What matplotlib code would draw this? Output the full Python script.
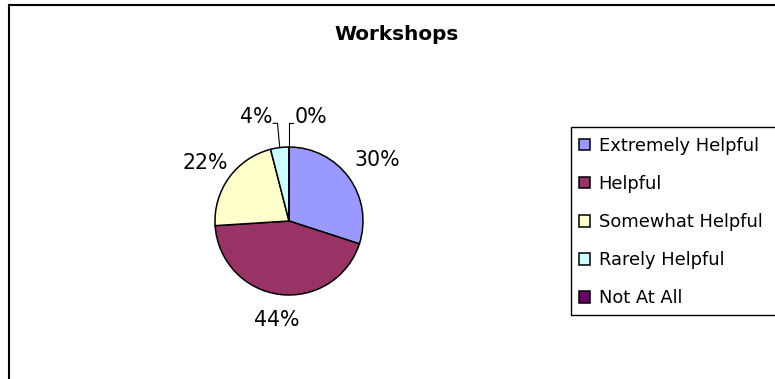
import matplotlib
matplotlib.use("Agg")
import matplotlib.pyplot as plt
import numpy as np
from matplotlib.patches import Rectangle
from matplotlib.lines import Line2D

# Survey responses for the "Workshops" question (percent of respondents)
categories = ["Extremely Helpful", "Helpful", "Somewhat Helpful",
              "Rarely Helpful", "Not At All"]
values = [30, 44, 22, 4, 0]
colors = ["#9999FF", "#993366", "#FFFFCC", "#CCFFFF", "#660066"]
title = "Workshops"

W, H = 775, 379
DPI = 100
fig = plt.figure(figsize=(W / DPI, H / DPI), dpi=DPI)
fig.patch.set_facecolor("white")
plt.rcParams["font.family"] = ["DejaVu Sans"]


def fx(px):
    return px / W


def fy(py):
    return 1 - py / H


# Chart-area border (open to the right and bottom)
fig.add_artist(Line2D([fx(9), fx(9)], [fy(5), fy(400)], color="black",
                      lw=1.5, transform=fig.transFigure))
fig.add_artist(Line2D([fx(9), fx(800)], [fy(5), fy(5)], color="black",
                      lw=1.5, transform=fig.transFigure))

fig.text(fx(397), fy(35), title, ha="center", va="center",
         fontsize=14.4, fontweight="bold")

# Pie axes: radius 1 in data units = 74 px
cx, cy, R = 289, 221, 74
half = 1.5 * R
ax = fig.add_axes([fx(cx - half), fy(cy + half), 2 * half / W, 2 * half / H])

wedges, texts, autotexts = ax.pie(
    values, colors=colors, startangle=90, counterclock=False, radius=1,
    autopct="%1.0f%%", pctdistance=1.4, labeldistance=None,
    wedgeprops=dict(edgecolor="black", linewidth=1.1),
    textprops=dict(fontsize=14.8, color="black"))
ax.set_xlim(-1.5, 1.5)
ax.set_ylim(-1.5, 1.5)
ax.set_aspect("equal")
ax.axis("off")

# Radial distance of each percentage label from the centre
label_dist = [1.47, 1.31, 1.40]
for w, t, d in zip(wedges[:3], autotexts[:3], label_dist):
    mid = np.deg2rad((w.theta1 + w.theta2) / 2)
    t.set_position((d * np.cos(mid), d * np.sin(mid) - 0.04))
    t.set_va("center")

# Small slices get labels pulled aside with leader lines
for w, t in zip(wedges[3:], autotexts[3:]):
    mid = np.deg2rad((w.theta1 + w.theta2) / 2)
    ex, ey = np.cos(mid), np.sin(mid)
    ty = 1.32
    t.set_va("center")
    if ex < -1e-6:
        lx = -0.215
        ax.plot([ex, ex - 0.03, lx], [ey, ty, ty], color="black",
                lw=0.8, clip_on=False)
        t.set_position((lx - 0.005, 1.4))
        t.set_ha("right")
    else:
        lx = 0.06
        ax.plot([ex, ex, lx], [ey, ty, ty], color="black", lw=0.8,
                clip_on=False)
        t.set_position((lx + 0.02, 1.4))
        t.set_ha("left")

# Legend with a frame that runs off the right edge
fig.add_artist(Rectangle((fx(571), fy(315)), fx(800) - fx(571),
                         fy(127) - fy(315), transform=fig.transFigure,
                         facecolor="white", edgecolor="black", lw=1.0))
fig.legend(wedges, categories, loc="upper left",
           bbox_to_anchor=(fx(579), fy(137)), frameon=False,
           fontsize=12.9, handlelength=0.6, handleheight=0.6,
           handletextpad=0.5, labelspacing=1.12, borderpad=0,
           borderaxespad=0)

fig.savefig("out.png", dpi=DPI)
